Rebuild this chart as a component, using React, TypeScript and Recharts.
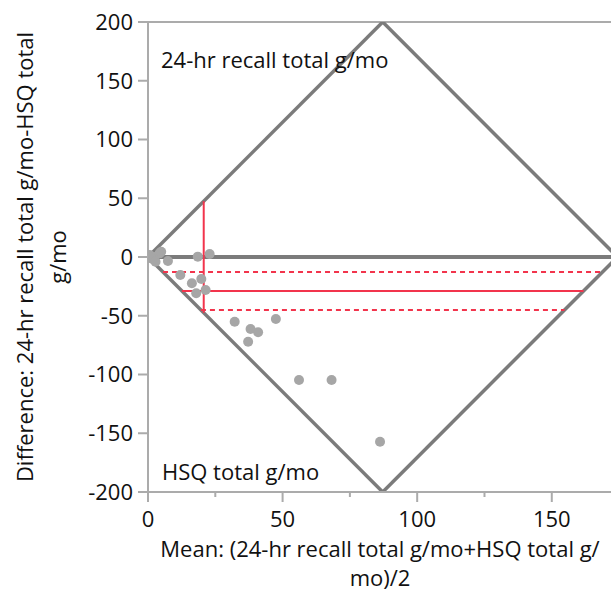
import React from 'react';
import { ComposedChart, Scatter, XAxis, YAxis, ReferenceLine, Label } from 'recharts';

// mean of the two methods (x) and their difference (y), one entry per subject
const meanValues = [0.3, 0.5, 0.6, 1.0, 1.2, 1.7, 2.0, 0.2, 2.8, 4.3, 4.9, 7.4, 18.5, 22.9, 12.0, 16.3, 19.8, 17.9, 21.4, 32.2, 38.1, 40.9, 37.2, 47.5, 56.1, 68.2, 86.2];
const diffValues = [0.0, -0.5, 1.7, 0.5, -0.3, -1.7, 0.0, 0.2, -4.0, 3.1, 4.5, -3.4, 0.3, 2.5, -15.3, -22.4, -18.7, -30.9, -28.1, -55.1, -61.3, -64.1, -72.1, -52.8, -104.7, -104.7, -157.2];

// summary lines
const meanDiff = -28.9;
const ciUpper = -12.8;
const ciLower = -45.1;
const meanOfMeans = 20.7;

// diamond (range of possible values) vertices
const diamondX = [0, 87.2, 174.4, 87.2, 0];
const diamondY = [0, 200, 0, -200, 0];

const xTicks = [0, 25, 50, 75, 100, 125, 150];
const yTicks = [-200, -150, -100, -50, 0, 50, 100, 150, 200];

const points = meanValues.map((m, i) => ({ x: m, y: diffValues[i] }));

const apexX = diamondX[1];
const topY = diamondY[1];
// horizontal extent of the diamond at a given difference
const rowSpan = (d: number) => {
  const half = (1 - Math.abs(d) / topY) * apexX;
  return [apexX - half, apexX + half];
};
const colSpan = (m: number) => (topY * Math.min(m, 2 * apexX - m)) / apexX;

const FONT = '"Open Sans", sans-serif';
const GRAY = '#7b7b7b';
const AXIS = '#ababab';
const RED = '#f2344c';

const XTick = (props: any) => {
  const { x, y, payload } = props;
  const major = payload.value % 50 === 0;
  return (
    <g>
      <line x1={x} x2={x} y1={y} y2={y + (major ? 10 : 5)} stroke={AXIS} strokeWidth={2} />
      {major && (
        <text x={x} y={y + 35} textAnchor="middle" fontSize={22} fontFamily={FONT} fill="#111">
          {payload.value}
        </text>
      )}
    </g>
  );
};

const App: React.FC = () => {
  const edges = diamondX.slice(0, -1).map((x, i) => [
    { x, y: diamondY[i] },
    { x: diamondX[i + 1], y: diamondY[i + 1] },
  ]);
  const hLines = [
    { v: ciUpper, dash: '5 4' },
    { v: meanDiff, dash: undefined },
    { v: ciLower, dash: '5 4' },
  ];
  const vSpan = colSpan(meanOfMeans);

  return (
    <div style={{ position: 'absolute', left: 0, top: 0, width: 611, height: 594, fontFamily: FONT }}>
      <ComposedChart width={611} height={594} data={points} margin={{ top: 22, right: 0, bottom: 0, left: 0 }}>
        <XAxis
          type="number"
          dataKey="x"
          domain={[0, 172]}
          allowDataOverflow
          ticks={xTicks}
          interval={0}
          height={102}
          tickLine={false}
          tickSize={0}
          tickMargin={0}
          tick={<XTick />}
          axisLine={{ stroke: AXIS, strokeWidth: 2 }}
        >
          <Label
            content={() => (
              <text textAnchor="middle" fontSize={22} fontFamily={FONT} fill="#111">
                <tspan x={380} y={557}>Mean: (24-hr recall total g/mo+HSQ total g/</tspan>
                <tspan x={380} y={586}>mo)/2</tspan>
              </text>
            )}
          />
        </XAxis>
        <YAxis
          type="number"
          dataKey="y"
          domain={[-200, 200]}
          allowDataOverflow
          ticks={yTicks}
          interval={0}
          width={148}
          tickSize={10}
          tickMargin={5}
          tickLine={{ stroke: AXIS, strokeWidth: 2 }}
          axisLine={{ stroke: AXIS, strokeWidth: 2 }}
          tick={{ fontSize: 22, fontFamily: FONT, fill: '#111' }}
        >
          <Label
            content={() => (
              <text textAnchor="middle" fontSize={22} fontFamily={FONT} fill="#111" transform="rotate(-90 0 257)">
                <tspan x={0} y={257 + 33}>Difference: 24-hr recall total g/mo-HSQ total</tspan>
                <tspan x={0} y={257 + 66}>g/mo</tspan>
              </text>
            )}
          />
        </YAxis>
        <ReferenceLine y={200} stroke={AXIS} strokeWidth={2} />
        <Scatter data={points} fill="#a6a6a6" isAnimationActive={false} shape={(p: any) => <circle cx={p.cx} cy={p.cy} r={5} fill="#a6a6a6" />} />
        <ReferenceLine y={0} stroke={GRAY} strokeWidth={4} />
        {edges.map((seg, i) => (
          <ReferenceLine key={'d' + i} segment={seg} stroke={GRAY} strokeWidth={3.5} ifOverflow="hidden" />
        ))}
        <ReferenceLine
          segment={[{ x: meanOfMeans, y: vSpan }, { x: meanOfMeans, y: -vSpan }]}
          stroke={RED}
          strokeWidth={2}
          ifOverflow="hidden"
        />
        {hLines.map((l, i) => {
          const [a, b] = rowSpan(l.v);
          return (
            <ReferenceLine
              key={'h' + i}
              segment={[{ x: a, y: l.v }, { x: b, y: l.v }]}
              stroke={RED}
              strokeWidth={2}
              strokeDasharray={l.dash}
              ifOverflow="hidden"
            />
          );
        })}
      </ComposedChart>
      <div style={{ position: 'absolute', left: 161, top: 44, fontSize: 22, lineHeight: '30px', color: '#111', whiteSpace: 'nowrap' }}>
        24-hr recall total g/mo
      </div>
      <div style={{ position: 'absolute', left: 162, top: 456, fontSize: 22, lineHeight: '30px', color: '#111', whiteSpace: 'nowrap' }}>
        HSQ total g/mo
      </div>
    </div>
  );
};

export default App;
